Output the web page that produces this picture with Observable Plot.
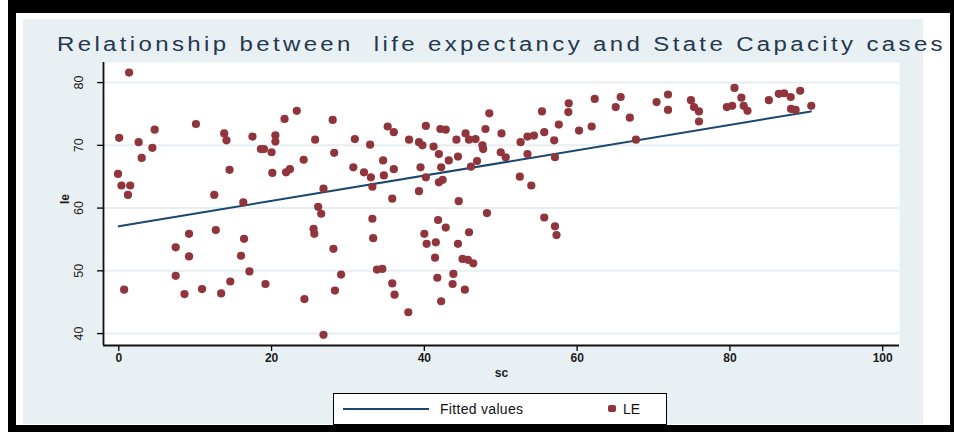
<!DOCTYPE html>
<html>
<head>
<meta charset="utf-8">
<script src="https://cdn.jsdelivr.net/npm/d3@7"></script>
<script src="https://cdn.jsdelivr.net/npm/@observablehq/plot@0.6"></script>
<style>
  html, body { margin: 0; padding: 0; background: #ffffff; }
  #wrap { position: relative; width: 954px; height: 432px; overflow: hidden; font-family: "Liberation Sans", Arial, sans-serif; }
  .abs { position: absolute; }
  #frameBlack { left: 8px; top: 0; width: 946px; height: 432px; background: #000; }
  #frameWhite { left: 16px; top: 13px; width: 934px; height: 412px; background: #fff; }
  #bgBlue { left: 23px; top: 19px; width: 900px; height: 405px; background: #e8f0f3; }
  #title { left: 57px; top: 33px; font-size: 20px; color: #24384f; white-space: nowrap; line-height: 22px; transform-origin: 0 0; }
  #plot { left: 0; top: 0; }
  #legend { left: 333px; top: 393px; width: 332px; height: 30px; background: #fff; border: 1.5px solid #000; box-sizing: content-box; }
  #legend .sw { position: absolute; left: 9px; top: 14px; width: 86px; height: 2px; background: #1a476f; }
  #legend .t1 { position: absolute; left: 106px; top: 7px; font-size: 14px; color: #111; letter-spacing: 0.3px; }
  #legend .mk { position: absolute; left: 274px; top: 11px; width: 8px; height: 7px; border-radius: 2px; background: #90353b; }
  #legend .t2 { position: absolute; left: 289px; top: 7px; font-size: 14px; color: #111; }
</style>
</head>
<body>
<div id="wrap">
  <div id="frameBlack" class="abs"></div>
  <div id="frameWhite" class="abs"></div>
  <div id="bgBlue" class="abs"></div>
  <div id="plot" class="abs"></div>
  <div id="title" class="abs"><span id="titleText">Relationship between&nbsp; life expectancy and State Capacity cases</span></div>
  <div id="legend" class="abs">
    <div class="sw"></div><div class="t1">Fitted values</div>
    <div class="mk"></div><div class="t2">LE</div>
  </div>
</div>
<script>
// ---- data ----
const titleText = "Relationship between  life expectancy and State Capacity cases";
const xLabel = "sc";
const yLabel = "le";
const xTicks = [0, 20, 40, 60, 80, 100];
const yTicks = [40, 50, 60, 70, 80];
const xDomain = [-2, 102.2];
const yDomain = [38.1, 83.2];

const scValues = [
  1.35, 0.05, -0.1, 0.35, 1.5, 1.2, 2.6, 3.0, 4.4, 4.7,
  10.1, 12.5, 13.8, 14.1, 14.5, 16.3, 17.5, 18.6, 19.0, 20.0,
  20.5, 20.5, 20.1, 21.7, 23.3, 21.9, 22.4, 24.2, 25.7, 28.0,
  28.2, 26.8, 26.1, 30.9, 32.9, 30.7, 32.1, 33.0, 33.2, 34.6,
  34.7, 36.0, 35.2, 36.0, 35.8,
  38.0, 39.3, 39.75, 40.2, 41.2, 41.9, 39.5, 40.2, 39.3, 41.9,
  42.4, 42.1, 42.8, 43.2, 42.2, 44.2, 44.4, 45.4, 45.85, 46.7,
  47.6, 47.7, 46.1, 46.9, 44.5, 48.0, 48.5, 50.1, 50.0, 50.65,
  52.6, 53.5, 54.35, 53.5, 52.5, 54.0, 55.7, 55.4, 57.6, 57.0,
  57.1, 58.9, 58.85, 60.25, 61.9, 62.3, 65.05, 65.7, 66.9, 67.7,
  70.4, 71.9, 71.9,
  74.9, 75.3, 75.95, 75.95, 80.6, 79.6, 80.3, 81.5, 81.8, 82.3,
  85.1, 86.4, 87.1, 87.96, 89.2, 88.0, 88.6, 90.65,
  26.5, 25.5, 25.6, 0.7, 7.45, 7.45, 8.6, 9.2, 9.2, 10.9,
  12.7, 13.4, 14.6, 16.0, 16.4, 17.1, 19.2, 24.3, 26.8, 28.1,
  29.1, 28.3, 33.2, 33.3, 33.8, 34.5, 35.8, 36.1,
  48.2, 55.7, 57.1, 57.3, 41.8, 42.8, 40.0, 40.3, 41.5, 44.4,
  45.85, 41.4, 45.0, 45.7, 46.4, 43.8, 41.7, 43.7, 45.3, 42.2,
  37.9
];
const leValues = [
  81.6, 71.2, 65.45, 63.6, 63.6, 62.1, 70.5, 68.0, 69.6, 72.5,
  73.4, 62.1, 71.9, 70.8, 66.1, 60.9, 71.4, 69.4, 69.4, 68.9,
  71.6, 70.6, 65.6, 74.2, 75.5, 65.7, 66.2, 67.7, 70.9, 74.05,
  68.8, 63.1, 60.2, 71.0, 70.1, 66.5, 65.7, 64.9, 63.4, 67.6,
  65.2, 66.2, 73.0, 72.1, 61.5,
  70.9, 70.5, 70.0, 73.1, 69.8, 68.6, 66.5, 64.9, 62.7, 64.1,
  64.5, 72.6, 72.5, 67.6, 66.5, 70.9, 68.2, 71.9, 70.9, 71.0,
  70.0, 69.4, 66.6, 67.5, 61.1, 72.6, 75.1, 71.9, 68.9, 68.1,
  70.5, 71.4, 71.55, 68.6, 65.0, 63.6, 72.1, 75.4, 73.3, 70.8,
  68.1, 76.7, 75.3, 72.35, 73.0, 77.4, 76.1, 77.7, 74.4, 70.9,
  76.9, 78.1, 75.65,
  77.2, 76.1, 75.4, 73.8, 79.15, 76.1, 76.3, 77.6, 76.3, 75.5,
  77.2, 78.2, 78.3, 77.7, 78.7, 75.8, 75.65, 76.3,
  59.1, 56.7, 55.9, 47.0, 53.75, 49.2, 46.3, 55.9, 52.3, 47.1,
  56.5, 46.4, 48.3, 52.4, 55.1, 49.9, 47.9, 45.5, 39.8, 53.5,
  49.4, 46.85, 58.3, 55.2, 50.2, 50.3, 48.0, 46.2,
  59.2, 58.5, 57.1, 55.7, 58.1, 56.9, 55.9, 54.3, 54.55, 54.3,
  56.15, 52.1, 51.9, 51.75, 51.2, 49.5, 48.9, 47.9, 47.0, 45.15,
  43.4
];
// fitted-values line endpoints
const fitSc = [0, 90.6];
const fitLe = [57.1, 75.4];

const points = scValues.map((s, i) => ({sc: s, le: leValues[i]}));
const fit = fitSc.map((s, i) => ({sc: s, le: fitLe[i]}));

const chart = Plot.plot({
  width: 954,
  height: 432,
  marginLeft: 103,
  marginRight: 55,
  marginTop: 62,
  marginBottom: 87,
  style: {background: "transparent", fontFamily: "Liberation Sans, Arial, sans-serif", overflow: "visible"},
  x: {domain: xDomain, ticks: xTicks},
  y: {domain: yDomain, ticks: yTicks},
  marks: [
    Plot.frame({fill: "#ffffff", stroke: null}),
    Plot.gridY(yTicks, {stroke: "#e6eef2", strokeOpacity: 1, strokeWidth: 2}),
    Plot.axisX(xTicks, {tickSize: 6, tickPadding: 2, stroke: "#000", strokeWidth: 1.3, fontSize: 12, fontWeight: "bold", fill: "#1b1b1b", label: null}),
    Plot.axisY(yTicks, {tickSize: 6, tickPadding: 15, tickRotate: -90, stroke: "#000", strokeWidth: 1.3, fontSize: 12.5, fill: "#222", label: null}),
    Plot.ruleX([xDomain[0]], {stroke: "#111", strokeWidth: 1.8}),
    Plot.ruleY([yDomain[0]], {stroke: "#111", strokeWidth: 1.8}),
    Plot.line(fit, {x: "sc", y: "le", stroke: "#1a476f", strokeWidth: 2}),
    Plot.dot(points, {x: "sc", y: "le", r: 4.1, fill: "#90353b", stroke: null}),
    Plot.text([xLabel], {frameAnchor: "bottom", dy: 31, text: d => d, fontSize: 12, fontWeight: "bold", fill: "#1b1b1b"}),
    Plot.text([yLabel], {frameAnchor: "left", dx: -38, text: d => d, rotate: -90, fontSize: 12, fontWeight: "bold", fill: "#1b1b1b"})
  ]
});
document.getElementById("plot").appendChild(chart);

// stretch the title to the width seen in the reference: wider glyphs plus a little spacing
const title = document.getElementById("title");
const span = document.getElementById("titleText");
span.textContent = titleText;
span.style.whiteSpace = "pre";
const w0 = span.getBoundingClientRect().width;
const target = 889;
const sx = 1.2;
title.style.transform = "scaleX(" + sx + ")";
span.style.letterSpacing = ((target / sx - w0) / titleText.length) + "px";
</script>
</body>
</html>
